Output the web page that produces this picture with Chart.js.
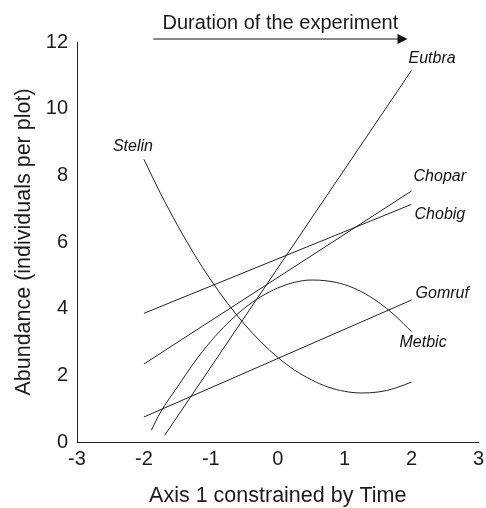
<!DOCTYPE html>
<html>
<head>
<meta charset="utf-8">
<script src="https://cdn.jsdelivr.net/npm/chart.js@4.4.1/dist/chart.umd.min.js"></script>
<style>
html,body{margin:0;padding:0;background:#fff;}
#wrap{width:486px;height:508px;position:relative;}
</style>
</head>
<body>
<div id="wrap"><canvas id="c" width="486" height="508"></canvas></div>
<script>
// ---- data ----
const xTicks = [-3, -2, -1, 0, 1, 2, 3];
const yTicks = [0, 2, 4, 6, 8, 10, 12];

const curveX  = [-2, -1.75, -1.5, -1.25, -1, -0.75, -0.5, -0.25, 0, 0.25, 0.5, 0.75, 1, 1.25, 1.5, 1.75, 2];
const stelinY = [8.48, 7.45, 6.51, 5.64, 4.86, 4.16, 3.54, 3.00, 2.54, 2.16, 1.87, 1.65, 1.52, 1.47, 1.50, 1.61, 1.80];

const metbicX = [-1.89, -1.75, -1.5, -1.25, -1, -0.75, -0.5, -0.25, 0, 0.25, 0.5, 0.75, 1, 1.25, 1.5, 1.75, 2];
const metbicY = [0.35, 0.90, 1.65, 2.38, 3.02, 3.56, 4.01, 4.36, 4.62, 4.79, 4.86, 4.83, 4.72, 4.51, 4.20, 3.80, 3.31];

const eutbraX = [-1.69, 2];
const eutbraY = [0.2, 11.15];
const lineX   = [-2, 2];
const choparY = [2.34, 7.53];
const chobigY = [3.86, 7.13];
const gomrufY = [0.75, 4.26];

const names = ['Stelin', 'Metbic', 'Eutbra', 'Chopar', 'Chobig', 'Gomruf'];

const titleText = 'Duration of the experiment';
const xTitle = 'Axis 1 constrained by Time';
const yTitle = 'Abundance (individuals per plot)';

// ---- build datasets ----
function pts(xs, ys){ return xs.map((x,i)=>({x:x, y:ys[i]})); }
const series = [
  {name:names[0], data:pts(curveX, stelinY), anchor:'first', dx:-11, dy:-13, align:'center'},
  {name:names[1], data:pts(metbicX, metbicY), anchor:'last', dx:-12, dy:11, align:'left'},
  {name:names[2], data:pts(eutbraX, eutbraY), anchor:'last', dx:-3, dy:-12, align:'left'},
  {name:names[3], data:pts(lineX, choparY), anchor:'last', dx:2, dy:-14, align:'left'},
  {name:names[4], data:pts(lineX, chobigY), anchor:'last', dx:3, dy:10, align:'left'},
  {name:names[5], data:pts(lineX, gomrufY), anchor:'last', dx:4, dy:-6, align:'left'}
];

const datasets = series.map(s => ({
  label: s.name,
  data: s.data,
  showLine: true,
  borderColor: '#222',
  borderWidth: 1,
  pointRadius: 0,
  tension: 0.4,
  cubicInterpolationMode: 'monotone',
  fill: false
}));

const FONT = "'Liberation Sans', Arial, sans-serif";
const TXT = '#1a1a1a';

const annot = {
  id: 'annot',
  afterDraw(chart){
    const ctx = chart.ctx;
    const xs = chart.scales.x, ys = chart.scales.y;
    ctx.save();
    // series labels
    ctx.fillStyle = '#111';
    ctx.font = 'italic 16px ' + FONT;
    ctx.textBaseline = 'middle';
    series.forEach(s => {
      const p = s.anchor === 'first' ? s.data[0] : s.data[s.data.length-1];
      const px = xs.getPixelForValue(p.x), py = ys.getPixelForValue(p.y);
      ctx.textAlign = s.align;
      ctx.fillText(s.name, px + s.dx, py + s.dy);
    });
    // arrow + title
    const top = chart.chartArea.top;
    const ax0 = xs.getPixelForValue(-1.86), ax1 = xs.getPixelForValue(1.94);
    const ay = top - 3;
    ctx.strokeStyle = '#888';
    ctx.lineWidth = 2;
    ctx.beginPath(); ctx.moveTo(ax0, ay); ctx.lineTo(ax1 - 8, ay); ctx.stroke();
    ctx.fillStyle = '#111';
    ctx.beginPath(); ctx.moveTo(ax1, ay); ctx.lineTo(ax1 - 10, ay - 5); ctx.lineTo(ax1 - 10, ay + 5); ctx.closePath(); ctx.fill();
    ctx.fillStyle = TXT;
    ctx.font = '20px ' + FONT;
    ctx.textAlign = 'center';
    ctx.textBaseline = 'middle';
    ctx.fillText(titleText, (ax0 + ax1) / 2, top - 19);
    ctx.restore();
  }
};

new Chart(document.getElementById('c'), {
  type: 'scatter',
  data: { datasets },
  options: {
    responsive: false,
    animation: false,
    devicePixelRatio: 1,
    layout: { padding: { left: 0, right: 6, top: 42, bottom: 0 } },
    plugins: { legend: { display: false }, tooltip: { enabled: false }, title: { display: false } },
    scales: {
      x: {
        type: 'linear', min: -3, max: 3,
        afterBuildTicks: sc => { sc.ticks = xTicks.map(v => ({value: v})); },
        afterFit: sc => { sc.height = 66; },
        grid: { display: false, drawOnChartArea: false, drawTicks: true, tickLength: 3, color: '#222' },
        border: { display: true, color: '#222', width: 1 },
        ticks: { color: TXT, font: { family: FONT, size: 20 }, padding: 2, maxRotation: 0 },
        title: { display: true, text: xTitle, color: TXT, font: { family: FONT, size: 21.5, lineHeight: 1.1 }, padding: { top: 14, bottom: 0 } }
      },
      y: {
        type: 'linear', min: 0, max: 12,
        afterBuildTicks: sc => { sc.ticks = yTicks.map(v => ({value: v})); },
        afterFit: sc => { sc.width = 77; },
        grid: { display: false, drawOnChartArea: false, drawTicks: true, tickLength: 3, color: '#222' },
        border: { display: true, color: '#222', width: 1 },
        ticks: { color: TXT, font: { family: FONT, size: 20 }, padding: 6 },
        title: { display: true, text: yTitle, color: TXT, font: { family: FONT, size: 21.5 }, padding: { top: 11, bottom: 0 } }
      }
    }
  },
  plugins: [annot]
});
</script>
</body>
</html>
